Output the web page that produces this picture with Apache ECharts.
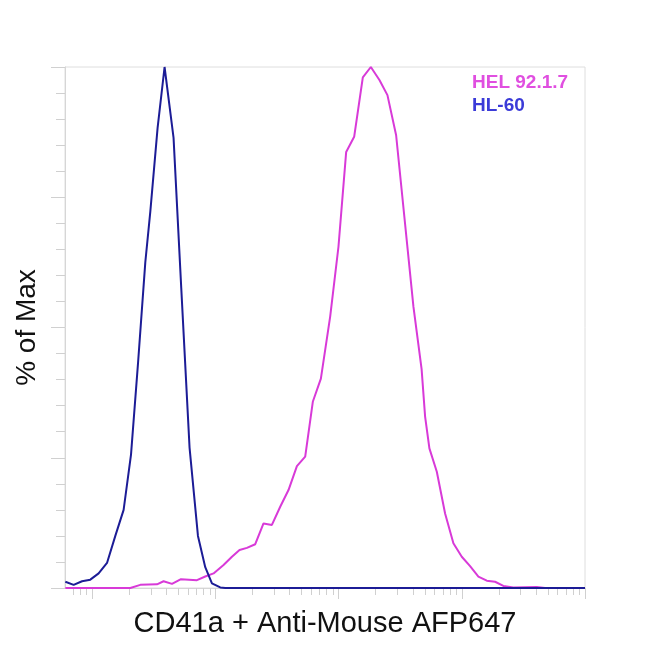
<!DOCTYPE html>
<html>
<head>
<meta charset="utf-8">
<script src="https://cdn.jsdelivr.net/npm/echarts@6/dist/echarts.min.js"></script>
<style>
html,body{margin:0;padding:0;background:#fff;}
#chart{width:650px;height:650px;}
</style>
</head>
<body>
<div id="chart"></div>
<script>
// HL-60 (blue) histogram: fluorescence intensity and % of max
const hl60X = [6.04, 7.05, 8.25, 9.63, 11.25, 13.16, 15.37, 17.95, 20.61, 23.49, 26.92, 29.55, 33.88, 38.6, 45.66, 52.74, 61.6, 72.05, 82.57, 93.58, 109.3, 120, 100000];
const hl60Y = [1.2, 0.6, 1.3, 1.6, 2.8, 4.8, 10.0, 15.0, 25.6, 43.1, 62.5, 72.2, 88.3, 100, 86.4, 57.5, 26.9, 10.0, 4.0, 0.9, 0.1, 0, 0];

// HEL 92.1.7 (magenta) histogram
const helX = [6.04, 20.34, 24.52, 33.5, 37.89, 44.34, 52.45, 70.72, 82.57, 96.43, 116.2, 136.0, 156.7, 179.9, 210.2, 245.4, 287.1, 335.3, 391.5, 458.1, 534.9, 617.6, 717.2, 853.2, 996.3, 1150.8, 1336, 1571, 1825, 2143, 2489, 2928, 4046, 4714, 5033, 5454, 6264, 7313, 8540, 9990, 11667, 13628, 15937, 18617, 21736, 26196, 40562, 47380, 100000];
const helY = [0, 0, 0.6, 0.7, 1.3, 0.8, 1.7, 1.5, 2.2, 2.8, 4.4, 6.0, 7.3, 7.7, 8.4, 12.4, 12.1, 15.6, 18.8, 23.4, 25.2, 35.8, 40.2, 52.1, 65.5, 83.7, 86.6, 98.0, 100, 97.5, 94.6, 86.9, 54.0, 42.0, 32.9, 26.8, 22.3, 14.3, 8.6, 6.0, 4.2, 2.2, 1.4, 1.2, 0.4, 0.1, 0.2, 0, 0];

const seriesNames = ['HEL 92.1.7', 'HL-60'];
const xMajorTicks = [10, 100, 1000, 10000, 100000];
const xMinorTicks = [7, 8, 9, 20, 30, 40, 50, 60, 70, 80, 90, 200, 300, 400, 500, 600, 700, 800, 900, 2000, 3000, 4000, 5000, 6000, 7000, 8000, 9000, 20000, 30000, 40000, 50000, 60000, 70000, 80000, 90000];
const xMin = 6, xMax = 100000;
const xTitle = 'CD41a + Anti-Mouse AFP647';
const yTitle = '% of Max';

const zip = (xs, ys) => xs.map((x, i) => [x, ys[i]]);
const FONT = 'Arial, "Liberation Sans", sans-serif';

const chart = echarts.init(document.getElementById('chart'), null, {renderer: 'canvas'});
chart.setOption({
  animation: false,
  backgroundColor: '#ffffff',
  grid: {left: 65, right: 65, top: 67, bottom: 62, show: true, borderColor: '#dedede', borderWidth: 1, backgroundColor: 'transparent'},
  legend: {
    orient: 'vertical', left: 462, top: 68, icon: 'none', itemWidth: 0, itemHeight: 10, itemGap: 4,
    selectedMode: false,
    textStyle: {fontFamily: FONT, fontSize: 19, fontWeight: 'bold'},
    data: [
      {name: seriesNames[0], textStyle: {color: '#e04fe0'}},
      {name: seriesNames[1], textStyle: {color: '#3b3bd8'}}
    ]
  },
  xAxis: [
    {
      type: 'log', logBase: 10, min: xMin, max: xMax,
      name: xTitle, nameLocation: 'middle', nameGap: 21,
      nameTextStyle: {fontFamily: FONT, fontSize: 29, color: '#111'},
      axisLine: {show: true, lineStyle: {color: '#d6d6d6', width: 1}},
      axisTick: {show: true, length: 11, lineStyle: {color: '#d0d0d0'}, customValues: xMajorTicks},
      axisLabel: {show: false},
      splitLine: {show: false},
      minorTick: {show: false}
    },
    {
      type: 'log', logBase: 10, min: xMin, max: xMax, gridIndex: 0, position: 'bottom',
      axisLine: {show: false},
      axisTick: {show: true, length: 7, lineStyle: {color: '#d0d0d0'}, customValues: xMinorTicks},
      axisLabel: {show: false},
      splitLine: {show: false}
    }
  ],
  yAxis: {
    type: 'value', min: 0, max: 100, interval: 25,
    name: yTitle, nameLocation: 'middle', nameGap: 24,
    nameTextStyle: {fontFamily: FONT, fontSize: 28, color: '#111'},
    axisLine: {show: true, lineStyle: {color: '#d6d6d6', width: 1}},
    axisTick: {show: true, length: 14, lineStyle: {color: '#d0d0d0'}},
    minorTick: {show: true, splitNumber: 5, length: 9, lineStyle: {color: '#d0d0d0'}},
    axisLabel: {show: false},
    splitLine: {show: false}
  },
  series: [
    {
      name: seriesNames[0], type: 'line', xAxisIndex: 0, data: zip(helX, helY),
      showSymbol: false, symbol: 'none', smooth: false,
      lineStyle: {color: '#d83ad8', width: 2}, itemStyle: {color: '#d83ad8'}
    },
    {
      name: seriesNames[1], type: 'line', xAxisIndex: 0, data: zip(hl60X, hl60Y),
      showSymbol: false, symbol: 'none', smooth: false,
      lineStyle: {color: '#1c1c96', width: 2}, itemStyle: {color: '#1c1c96'}
    }
  ]
});
</script>
</body>
</html>
